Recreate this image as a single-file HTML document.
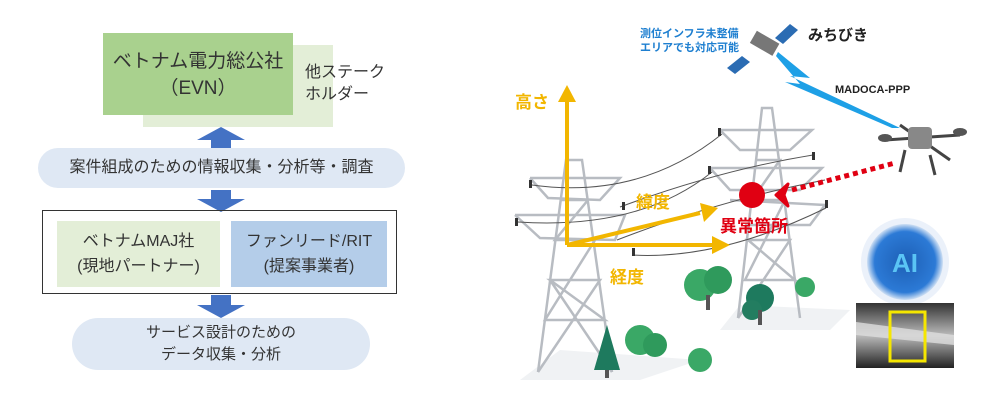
<!DOCTYPE html>
<html><head><meta charset="utf-8"><style>
html,body{margin:0;padding:0;background:#fff;}
body{width:1000px;height:407px;position:relative;overflow:hidden;font-family:"Liberation Sans","Noto Sans CJK JP",sans-serif;}
.a{position:absolute;}
.t{position:absolute;color:#333;text-align:center;}
</style></head><body>
<div class="a" style="left:143px;top:45px;width:190px;height:82px;background:#e3eed7;"></div>
<div class="a" style="left:103px;top:33px;width:190px;height:82px;background:#a9d18e;"></div>
<div class="t" style="left:103px;top:48px;width:190px;font-size:19px;line-height:27px;">ベトナム電力総公社<br>（EVN）</div>
<div class="t" style="left:305px;top:62px;font-size:16px;line-height:22px;text-align:left;">他ステーク<br>ホルダー</div>

<svg class="a" style="left:0;top:0" width="420" height="407">
 <polygon points="221,127 245,140 231,140 231,152 211,152 211,140 197,140" fill="#4472c4"/>
 <polygon points="211,190 231,190 231,199 245,199 221,212 197,199 211,199" fill="#4472c4"/>
 <polygon points="211,295 231,295 231,305 245,305 221,318 197,305 211,305" fill="#4472c4"/>
</svg>
<div class="a" style="left:38px;top:148px;width:367px;height:40px;border-radius:20px;background:#dfe8f4;"></div>
<div class="t" style="left:38px;top:156px;width:367px;font-size:16px;line-height:24px;">案件組成のための情報収集・分析等・調査</div>
<div class="a" style="left:42px;top:210px;width:355px;height:84px;border:1.5px solid #333;box-sizing:border-box;"></div>
<div class="a" style="left:57px;top:221px;width:163px;height:66px;background:#e3eed7;"></div>
<div class="a" style="left:231px;top:221px;width:156px;height:66px;background:#b4cde9;"></div>
<div class="t" style="left:57px;top:229px;width:163px;font-size:16px;line-height:25px;">ベトナムMAJ社<br>(現地パートナー)</div>
<div class="t" style="left:231px;top:229px;width:156px;font-size:16px;line-height:25px;">ファンリード/RIT<br>(提案事業者)</div>
<div class="a" style="left:72px;top:318px;width:298px;height:52px;border-radius:26px;background:#dfe8f4;"></div>
<div class="t" style="left:72px;top:322px;width:298px;font-size:15px;line-height:22px;">サービス設計のための<br>データ収集・分析</div>

<svg class="a" style="left:490px;top:0" width="510" height="407" viewBox="490 0 510 407">
 <defs>
  <radialGradient id="ai" cx="50%" cy="50%" r="50%"><stop offset="0" stop-color="#1d5fb5"/><stop offset="0.8" stop-color="#2c7ad6"/><stop offset="1" stop-color="#cfe0f4"/></radialGradient>
  <linearGradient id="ph" x1="0" y1="0" x2="0" y2="1"><stop offset="0" stop-color="#333"/><stop offset="0.5" stop-color="#bbb"/><stop offset="1" stop-color="#222"/></linearGradient>
 </defs>
 <polygon points="520,380 640,380 700,360 560,350" fill="#f0f2f4"/>
 <polygon points="720,330 830,330 850,310 740,305" fill="#f0f2f4"/>
 <g stroke="#b8bcc2" stroke-width="2.5" fill="none">
  <polyline points="538,372 566,160 582,160 612,372"/>
  <path d="M545,320 L605,320 M550,280 L600,280 M555,240 L595,240 M560,200 L588,200 M538,372 L600,280 L550,280 L605,320 L545,320 L595,240 L555,240 L588,200 L560,200 M612,372 L550,280"/>
  <polyline points="530,178 620,178 600,200 548,198 530,178"/>
  <polyline points="515,215 625,215 615,240 540,238 515,215"/>
 </g>
 <g stroke="#b8bcc2" stroke-width="2.5" fill="none">
  <polyline points="738,318 762,108 772,108 800,318"/>
  <path d="M745,280 L795,280 M748,240 L790,240 M752,200 L785,200 M756,160 L780,160 M738,318 L790,240 L748,240 L795,280 L745,280 L785,200 L752,200 L780,160 L756,160"/>
  <polyline points="720,130 812,130 790,150 740,150 720,130"/>
  <polyline points="710,168 822,168 800,190 730,190 710,168"/>
  <polyline points="730,200 825,205 810,225 745,225"/>
 </g>
 <g stroke="#555" stroke-width="1" fill="none">
  <path d="M532,185 Q640,200 722,134"/>
  <path d="M620,207 Q720,170 813,155"/>
  <path d="M518,222 Q640,230 712,172"/>
  <path d="M617,240 Q720,200 825,180"/>
  <path d="M632,255 Q720,260 826,208"/>
 </g>
 <g fill="#333"><rect x="529" y="180" width="3" height="8"/><rect x="718" y="128" width="3" height="8"/><rect x="812" y="152" width="3" height="8"/><rect x="515" y="218" width="3" height="8"/><rect x="708" y="166" width="3" height="8"/><rect x="622" y="202" width="3" height="8"/><rect x="825" y="200" width="3" height="8"/><rect x="632" y="248" width="3" height="8"/></g>
 <g>
  <circle cx="700" cy="285" r="16" fill="#3aa866"/><circle cx="718" cy="280" r="14" fill="#2f9a5c"/><rect x="706" y="295" width="4" height="15" fill="#555"/>
  <circle cx="760" cy="298" r="14" fill="#1e7a5e"/><circle cx="752" cy="310" r="10" fill="#237d60"/><rect x="758" y="310" width="4" height="15" fill="#555"/>
  <circle cx="805" cy="287" r="10" fill="#3aa866"/>
  <circle cx="640" cy="340" r="15" fill="#3aa866"/><circle cx="655" cy="345" r="12" fill="#2f9a5c"/>
  <circle cx="700" cy="360" r="12" fill="#3aa866"/>
  <polygon points="607,325 620,370 594,370" fill="#1e7a5e"/><rect x="605" y="370" width="4" height="8" fill="#555"/>
 </g>
 <g stroke="#f2b600" stroke-width="4" fill="#f2b600">
  <line x1="567" y1="245" x2="567" y2="96"/>
  <line x1="567" y1="245" x2="700" y2="213"/>
  <line x1="567" y1="245" x2="712" y2="245"/>
 </g>
 <polygon points="567,85 558,102 576,102" fill="#f2b600"/>
 <polygon points="718,208 700,203 704,222" fill="#f2b600"/>
 <polygon points="730,245 712,236 712,254" fill="#f2b600"/>
 <text x="515" y="108" font-size="17" font-weight="bold" fill="#f2b600" font-family="Liberation Sans,Noto Sans CJK JP,sans-serif">高さ</text>
 <text x="636" y="208" font-size="17" font-weight="bold" fill="#f2b600" font-family="Liberation Sans,Noto Sans CJK JP,sans-serif">緯度</text>
 <text x="610" y="283" font-size="17" font-weight="bold" fill="#f2b600" font-family="Liberation Sans,Noto Sans CJK JP,sans-serif">経度</text>
 <circle cx="752" cy="195" r="13" fill="#e00012"/>
 <path d="M788,184 L776,195 L788,206 L784,195 Z" fill="#e00012" stroke="#e00012" stroke-width="3" stroke-linejoin="round"/>
 <line x1="792" y1="190" x2="895" y2="163" stroke="#e00012" stroke-width="5" stroke-dasharray="5,4"/>
 <text x="720" y="232" font-size="17" font-weight="bold" fill="#e00012" font-family="Liberation Sans,Noto Sans CJK JP,sans-serif">異常箇所</text>
 <polygon points="727,68 742,56 750,62 735,74" fill="#2b6cb3"/>
 <polygon points="775,38 790,24 798,30 783,44" fill="#2b6cb3"/>
 <rect x="752" y="37" width="26" height="14" fill="#777" transform="rotate(30 766 43)"/>
 <text x="640" y="37" font-size="11" font-weight="bold" fill="#1e7fd0" font-family="Liberation Sans,Noto Sans CJK JP,sans-serif">測位インフラ未整備</text>
 <text x="640" y="51" font-size="11" font-weight="bold" fill="#1e7fd0" font-family="Liberation Sans,Noto Sans CJK JP,sans-serif">エリアでも対応可能</text>
 <text x="808" y="40" font-size="15" font-weight="bold" fill="#222" font-family="Liberation Sans,Noto Sans CJK JP,sans-serif">みちびき</text>
 <polygon points="778,52 810,78 790,76 900,128 892,128 785,82 800,84 776,56" fill="#1ea0e6"/>
 <text x="835" y="93" font-size="11" font-weight="bold" fill="#222" font-family="Liberation Sans,Noto Sans CJK JP,sans-serif">MADOCA-PPP</text>
 <g stroke="#444" stroke-width="3" fill="none">
  <line x1="885" y1="140" x2="960" y2="135"/><line x1="900" y1="125" x2="950" y2="160"/>
  <line x1="905" y1="150" x2="900" y2="172"/><line x1="930" y1="155" x2="935" y2="175"/>
 </g>
 <rect x="908" y="127" width="24" height="22" rx="4" fill="#888"/>
 <ellipse cx="885" cy="138" rx="7" ry="4" fill="#555"/><ellipse cx="960" cy="132" rx="7" ry="4" fill="#555"/>
 <circle cx="905" cy="262" r="44" fill="#dde8f6" opacity="0.6"/>
 <circle cx="905" cy="262" r="38" fill="url(#ai)"/>
 <text x="905" y="272" text-anchor="middle" font-size="26" font-weight="bold" fill="#5ac4f5" font-family="Liberation Sans,sans-serif">AI</text>
 <rect x="856" y="303" width="98" height="65" fill="url(#ph)"/>
 <path d="M856,322 L954,335 L954,345 L856,335 Z" fill="#ddd" opacity="0.8"/>
 <rect x="890" y="312" width="35" height="49" fill="none" stroke="#f5e600" stroke-width="3"/>
</svg>
</body></html>
